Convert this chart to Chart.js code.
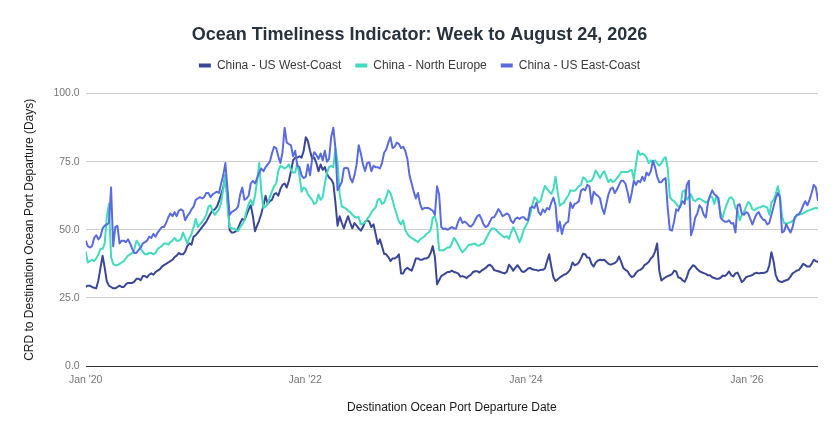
<!DOCTYPE html>
<html>
<head>
<meta charset="utf-8">
<script src="https://cdn.jsdelivr.net/npm/chart.js@4.4.1/dist/chart.umd.min.js"></script>
<style>
  body { margin: 0; background: #fff; }
  #wrap { width: 839px; height: 438px; }
</style>
</head>
<body>
<div id="wrap"><canvas id="myChart"></canvas></div>
<script>
  // weekly series, first week ending 2020-01-06, last 2026-08-24
  const startDate = '2020-01-06';
  const tickDates = ['2020-01-01', '2022-01-01', '2024-01-01', '2026-01-01'];
  const tickLabels = ["Jan '20", "Jan '22", "Jan '24", "Jan '26"];
  const seriesNames = ['China - US West-Coast', 'China - North Europe', 'China - US East-Coast'];

  const westCoast = [
    29, 29.5, 29.5, 29, 28.7, 28.5, 31.5, 36, 40.5, 36,
    31, 29.5, 29, 28.5, 28.5, 29, 29.5, 29, 29, 30,
    30.5, 30.5, 30.5, 31, 32, 32, 31.5, 33, 33, 32.5,
    33.5, 34, 33.5, 34.5, 35, 35.5, 36.5, 37, 37.5, 38,
    38.5, 39, 40, 40.5, 41.5, 41, 41, 42, 44, 45,
    44.5, 47.5, 48, 49, 50, 51, 52, 53, 54.5, 56,
    57, 57.5, 58.5, 60.5, 63, 65.5, 70, 62, 50, 49,
    49, 49.5, 50.5, 52.5, 54, 53.5, 55.5, 57.5, 59, 55,
    49.5, 51.5, 53.5, 56, 59, 62.5, 59.5, 60.5, 61, 63,
    63.5, 62.5, 65, 66.5, 67, 65.5, 68, 71.5, 75.5, 76.5,
    76.5, 77, 76.5, 79, 84, 82.5, 79, 76, 76.5, 74.5,
    71.5, 74, 72, 73, 70.5, 69.2, 68.5, 67, 60, 51.5,
    55, 52.5, 50.5, 53, 55, 52.5, 50.5, 52.5, 51.5, 50.5,
    49.7, 51, 53, 53.5, 53, 51, 52, 48.5, 44.8, 46.5,
    44, 41.2, 41, 40, 38.5, 39.5, 39.5, 40, 41, 34,
    34, 35.5, 36, 35.5, 35, 37, 39.5, 39.5, 39, 39,
    39.5, 39.5, 40, 41.5, 44, 40, 30, 31.5, 33, 33.5,
    34, 34.5, 34.5, 35, 34.5, 34.3, 34, 32.8, 33, 32.7,
    32.3, 33, 33.5, 34.5, 34.8, 34.8, 34.3, 35, 35.5, 36,
    36.8, 37.2, 36.5, 35.2, 35, 34.8, 34.5, 34.2, 34, 34.6,
    37.2, 36.3, 35, 36, 37, 36, 34.8, 34.5, 35, 35.8,
    36, 35.5, 35.3, 35.2, 35, 35.3, 35.3, 35.8, 38.5, 41,
    36.5, 32.6, 31.2, 31.8, 32.5, 33, 33.5, 33.8, 34.5, 35.5,
    38, 37, 37.3, 38, 39.5, 41.2, 41, 39.8, 39.7, 37.5,
    36.5, 38, 38.7, 39, 38.8, 39, 38.3, 37.5, 37.2, 37.5,
    37.8, 38.5, 40.2, 38.2, 36, 35.3, 34.8, 33.5, 32.6, 33,
    34.2, 35, 35.3, 35.8, 37, 37.5, 38.2, 39.5, 40.2, 42,
    45, 35, 31.4, 32, 32.6, 33, 33.3, 33.7, 35, 34.7,
    32.5, 32.3, 31.5, 30.9, 32.5, 35, 36, 37, 36.5, 35.5,
    34.8, 34.4, 34.1, 33.8, 33.3, 33.3, 32.6, 32.3, 32, 32,
    32.4, 33.2, 33, 33.7, 34.7, 33.3, 32.9, 34, 34.3, 32.6,
    30.8, 31.5, 32.6, 32.9, 33.1, 33.4, 34, 34.2, 34, 34.1,
    34.1, 34.3, 34.7, 37, 41.8, 38.5, 33.5, 31.5, 31, 30.8,
    31.2, 31.5, 31.8, 32.8, 34, 34.5, 35, 35.3, 36.3, 37.5,
    37, 36.5, 36.5, 37.5, 39, 38.5, 38.2
  ];

  const northEurope = [
    42, 38, 38.5, 39, 38.5, 39.5, 41, 43, 43, 45,
    55, 59.5, 40, 37.5, 37, 37, 37.5, 38, 38.5, 39.5,
    40.5, 41, 41.5, 43, 46, 45, 43, 42, 41, 41,
    41.5, 41.5, 41, 41.5, 43, 43.5, 44, 45, 45, 44.5,
    45.5, 46, 47, 46, 46, 46.5, 49, 47, 45, 47,
    48.5, 51, 54, 51, 52, 53, 54, 55.5, 58.5, 59,
    57, 55.5, 56.5, 57.5, 60, 65, 70, 59, 51, 50.5,
    50.5, 50, 49.5, 51, 52, 53.5, 57, 59.5, 61, 59,
    62.5, 68, 74.5, 64, 58, 58.5, 59.5, 62, 64, 66,
    67, 71.5, 73.5, 73, 72.5, 73, 74, 72, 71, 71,
    74.5, 70, 64, 65.5, 65, 63, 62, 61, 59.5, 60,
    63, 61, 62, 67, 71, 73, 73.5, 73, 80, 75,
    63, 58.5, 58.2, 57.8, 57, 56.5, 55.5, 54.8, 54.5, 54.7,
    52, 52.3, 52.7, 54, 55, 56.4, 57.4, 58.2, 61, 61.3,
    59.5, 60, 62, 64.5, 63.5, 61, 58, 55.5, 53, 52,
    53.5, 50, 48.5, 47.5, 47, 46.5, 46, 45.5, 46.5, 47,
    47.5, 48.5, 49, 50, 54.5, 55, 52, 42.5, 42.5, 42.4,
    43, 43.5, 43.5, 45, 47, 46, 44.5, 43, 41.8, 42.5,
    43.5, 44.5, 44.5, 44.8, 45, 44.2, 44.2, 44.8, 45, 46.5,
    48, 49.5, 50.5, 50.5, 49.8, 49, 48.4, 47.7, 47.2, 47.7,
    46.7, 49, 50.9, 49.5, 47.5, 45.4, 47.5, 50, 51.5, 53,
    55.5, 59, 61.9, 61.3, 60, 60.7, 63.8, 66.1, 65, 64,
    63.2, 65, 69.5, 64, 58.8, 59.5, 60, 61.5, 62.5, 64.5,
    64.3, 64.3, 65, 66, 66.5, 69.2, 68.8, 67.5, 67.8, 68,
    69.5, 71.8, 70.5, 69, 70.5, 71.5, 69.5, 67.5, 68.5, 67.5,
    68, 69, 70, 71.2, 71.2, 71.2, 71.2, 71.6, 72, 68.5,
    74, 79, 77.5, 78, 77.5, 76.5, 74.5, 75.5, 74.5, 75.5,
    74.5, 73.5, 74.5, 76, 76.7, 72.5, 62, 61, 60.5, 59.5,
    58.5, 58.5, 64, 64.5, 61, 62, 63, 61, 60.5, 61.2,
    61.5, 61, 60.5, 60, 60.5, 62.5, 62, 59.5, 62.5, 60,
    56, 54.5, 57.5, 59.5, 61.5, 62, 61, 58, 57, 53.5,
    55.5, 56.5, 58.5, 60.2, 59.5, 57.5, 57.2, 57.8, 58.2, 58.3,
    58.8, 58.5, 58.2, 55.5, 60, 61, 63, 66, 62.5, 55,
    52.5, 52.2, 52.5, 52.8, 53.3, 54, 55.3, 55.5, 55.8, 56,
    56.5, 57, 57.2, 57.5, 57.8, 58, 57.9
  ];

  const eastCoast = [
    46, 44, 43.5, 44, 47, 48, 46.5, 47.5, 50.5, 51.5,
    52, 52.5, 65.5, 44, 51, 51.5, 45, 46, 46, 45.5,
    46.5, 45, 43, 41.5, 41.5, 42.5, 43.5, 45, 45.5, 46,
    47.5, 47, 48.5, 47.5, 49, 50, 51, 51, 52.5, 54.5,
    56, 55, 56.5, 55, 57, 57.5, 57, 53.5, 55, 56,
    57.5, 58.5, 61, 61.5, 62, 61.5, 62, 63.5, 63.5, 62,
    63, 63.5, 64, 63.5, 67, 70, 74.5, 65, 55.5, 56.5,
    57, 57.5, 58.5, 63, 65.5, 61, 61.5, 62.5, 67, 68,
    67, 69, 71, 72.5, 71.5, 73, 74, 75, 78, 80.5,
    80, 77, 74.5, 78.5, 87.5, 82, 81.5, 81, 77, 79,
    73.5, 73, 70, 69, 69.5, 74, 70, 76, 78.5, 77.5,
    76, 78, 75.5, 79, 75, 76, 84, 87.5, 80, 64.5,
    66, 67.5, 72.5, 72.8, 72.5, 69, 67.4, 70, 74, 81,
    78, 74, 71.6, 74.5, 74.8, 71.5, 73.5, 73, 73, 72.5,
    74.5, 78.3, 79.5, 82, 84, 80, 80.5, 82, 81.5, 80,
    80.5, 79, 76, 70, 67, 64, 61.5, 63.5, 59.5, 57.5,
    58, 58, 58, 57.5, 57, 55.5, 66, 63, 51, 50.3,
    50.5, 50, 50.5, 51, 50.5, 50.5, 53, 54.5, 52.5, 53,
    52.5, 51.5, 51.2, 52, 53.5, 55, 55.5, 54, 52, 51,
    51.5, 53, 54.5, 54.6, 56, 57.6, 56.5, 55, 55.5, 56,
    55.5, 53.3, 52.5, 54, 54.5, 54, 54.6, 54.6, 53.8, 53.5,
    58, 58.5, 58, 60, 56.5, 55.5, 57.5, 56.5, 58, 57.5,
    60, 61.8, 59, 49.5, 53, 48.5, 51.5, 52.5, 53, 60,
    58, 59.5, 59.8, 60.5, 64.3, 65, 64.5, 66.5, 66, 59.6,
    64, 63, 62.5, 61.5, 58, 55.8, 59.5, 63, 65, 65.5,
    63.5, 64.8, 66.5, 68, 68, 67, 64, 60, 63.5, 68,
    66.5, 68, 67.5, 69.5, 68, 71, 70, 71.5, 75.3, 73,
    69.5, 67.5, 67.5, 68.5, 69, 58, 50, 49.7, 53, 57.5,
    57, 59, 60.5, 59.5, 66.5, 68, 48, 50.5, 54.5, 56,
    59, 58, 55.5, 54.5, 60, 62.5, 64.5, 63, 62.5, 61.5,
    54.5, 53.5, 53, 53, 53.5, 52.3, 52.5, 49, 59, 59.4,
    56, 55.5, 56.5, 56, 54, 52, 54, 55.8, 56.5, 54.8,
    53.8, 53.5, 52, 52.5, 55.5, 58.5, 61.5, 63.5, 62, 49,
    49.5, 52, 50.5, 49, 51, 54.5, 55.5, 55.8, 57, 59,
    60.5, 59, 61, 63.5, 66.5, 65.5, 60.6
  ];

  const weekMs = 7 * 24 * 3600 * 1000;
  const weeks = westCoast.map((v, i) => i);
  const tickWeeks = tickDates.map(d => Math.max(0, (Date.parse(d) - Date.parse(startDate)) / weekMs));

  Chart.defaults.font.family = '"Liberation Sans", Arial, sans-serif';

  // google-charts style gap between legend and plot
  const legendGap = {
    id: 'legendGap',
    beforeInit(chart) {
      const fit = chart.legend.fit;
      chart.legend.fit = function () {
        fit.call(this);
        this.height += 12;
      };
    }
  };

  const line = (label, data, color, order) => ({
    label: label,
    data: data,
    borderColor: color,
    backgroundColor: color,
    borderWidth: 2,
    pointRadius: 0,
    tension: 0,
    borderJoinStyle: 'round',
    order: order
  });

  const ctx = document.getElementById('myChart');

  new Chart(ctx, {
    type: 'line',
    data: {
      labels: weeks,
      datasets: [
        line(seriesNames[0], westCoast, '#3a4797', 3),
        line(seriesNames[1], northEurope, '#42dbbd', 2),
        line(seriesNames[2], eastCoast, '#5a6be0', 1)
      ]
    },
    plugins: [legendGap],
    options: {
      responsive: true,
      maintainAspectRatio: false,
      animation: false,
      layout: { padding: { left: 21, right: 21, top: 11, bottom: 15 } },
      plugins: {
        title: {
          display: true,
          text: 'Ocean Timeliness Indicator: Week to August 24, 2026',
          color: '#28323c',
          font: { size: 18, weight: 'bold' },
          padding: { top: 13, bottom: 0 }
        },
        legend: {
          labels: {
            boxWidth: 12,
            boxHeight: 4,
            padding: 14,
            color: '#3a3a3a',
            font: { size: 12 },
            sort: (a, b) => a.datasetIndex - b.datasetIndex,
            generateLabels(chart) {
              return Chart.defaults.plugins.legend.labels.generateLabels(chart)
                .map(item => Object.assign(item, { lineWidth: 0 }));
            }
          }
        },
        tooltip: { enabled: false }
      },
      scales: {
        x: {
          type: 'linear',
          bounds: 'data',
          min: 0,
          max: weeks.length - 1,
          grid: { display: false, drawTicks: false },
          border: { display: false },
          afterBuildTicks(scale) {
            scale.ticks = tickWeeks.map(v => ({ value: v }));
          },
          ticks: {
            autoSkip: false,
            maxRotation: 0,
            padding: 8,
            color: '#767676',
            font: { size: 10.5 },
            callback: (v, i) => tickLabels[i]
          },
          title: {
            display: true,
            text: 'Destination Ocean Port Departure Date',
            color: '#1a1a1a',
            font: { size: 12 },
            padding: { top: 6, bottom: 8 }
          }
        },
        y: {
          min: 0,
          max: 100,
          border: { display: false },
          grid: {
            drawTicks: false,
            color: c => (c.tick.value === 0 ? '#333333' : '#d0d0d0')
          },
          ticks: {
            stepSize: 25,
            padding: 6,
            color: '#767676',
            font: { size: 10.5 },
            callback: v => v.toFixed(1)
          },
          title: {
            display: true,
            text: 'CRD to Destination Ocean Port Departure (Days)',
            color: '#1a1a1a',
            font: { size: 12 },
            padding: { top: 1, bottom: 11 }
          }
        }
      }
    }
  });
</script>
</body>
</html>
